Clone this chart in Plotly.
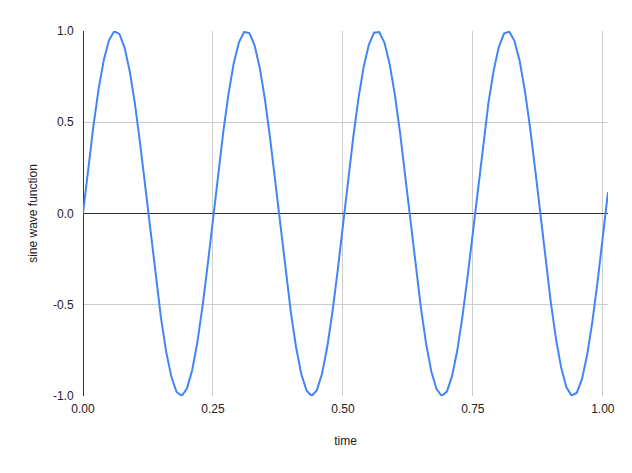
import plotly.graph_objects as go

time = [round(i / 100, 2) for i in range(102)]
sine = [
    0.000, 0.247, 0.479, 0.682, 0.841, 0.949, 0.998, 0.984, 0.909, 0.778,
    0.599, 0.382, 0.141, -0.108, -0.351, -0.572, -0.757, -0.895, -0.978, -0.999,
    -0.959, -0.859, -0.706, -0.508, -0.279, -0.033, 0.215, 0.450, 0.657, 0.823,
    0.938, 0.995, 0.989, 0.923, 0.799, 0.625, 0.412, 0.174, -0.075, -0.320,
    -0.544, -0.734, -0.880, -0.970, -1.000, -0.968, -0.876, -0.729, -0.537, -0.311,
    -0.066, 0.183, 0.420, 0.632, 0.804, 0.926, 0.991, 0.994, 0.935, 0.818,
    0.650, 0.442, 0.207, -0.042, -0.288, -0.516, -0.712, -0.864, -0.961, -1.000,
    -0.976, -0.891, -0.751, -0.564, -0.343, -0.099, 0.150, 0.390, 0.606, 0.783,
    0.913, 0.986, 0.997, 0.946, 0.837, 0.675, 0.472, 0.239, -0.009, -0.256,
    -0.487, -0.688, -0.846, -0.952, -0.998, -0.982, -0.906, -0.773, -0.591, -0.373,
    -0.132, 0.117,
]
x_ticks = [0, 0.25, 0.5, 0.75, 1.0]
y_ticks = [-1.0, -0.5, 0.0, 0.5, 1.0]

fig = go.Figure()
fig.add_trace(go.Scatter(x=time, y=sine, mode="lines",
                         line=dict(color="#4285F4", width=2), hoverinfo="skip"))

font = "Liberation Sans, Arial, sans-serif"
fig.update_layout(
    width=624, height=465,
    margin=dict(l=75, r=24, t=23, b=77),
    paper_bgcolor="white", plot_bgcolor="white",
    showlegend=False,
    font=dict(family=font, size=12, color="#222222"),
    xaxis=dict(
        range=[0, 1.01], tickvals=x_ticks, ticktext=[f"{v:.2f}" for v in x_ticks],
        showgrid=True, gridcolor="#cccccc", gridwidth=1,
        zeroline=True, zerolinecolor="#333333", zerolinewidth=1,
        ticks="outside", ticklen=2, tickcolor="rgba(0,0,0,0)",
        title=dict(text="time", standoff=21, font=dict(size=12, color="#222222")),
        fixedrange=True,
    ),
    yaxis=dict(
        range=[-1, 1], tickvals=y_ticks, ticktext=[f"{v:.1f}" for v in y_ticks],
        showgrid=True, gridcolor="#cccccc", gridwidth=1,
        zeroline=True, zerolinecolor="#333333", zerolinewidth=1,
        ticks="outside", ticklen=6, tickcolor="rgba(0,0,0,0)",
        title=dict(text="sine wave function", standoff=12, font=dict(size=12, color="#222222")),
        fixedrange=True,
    ),
)
fig.write_html("out.html")
